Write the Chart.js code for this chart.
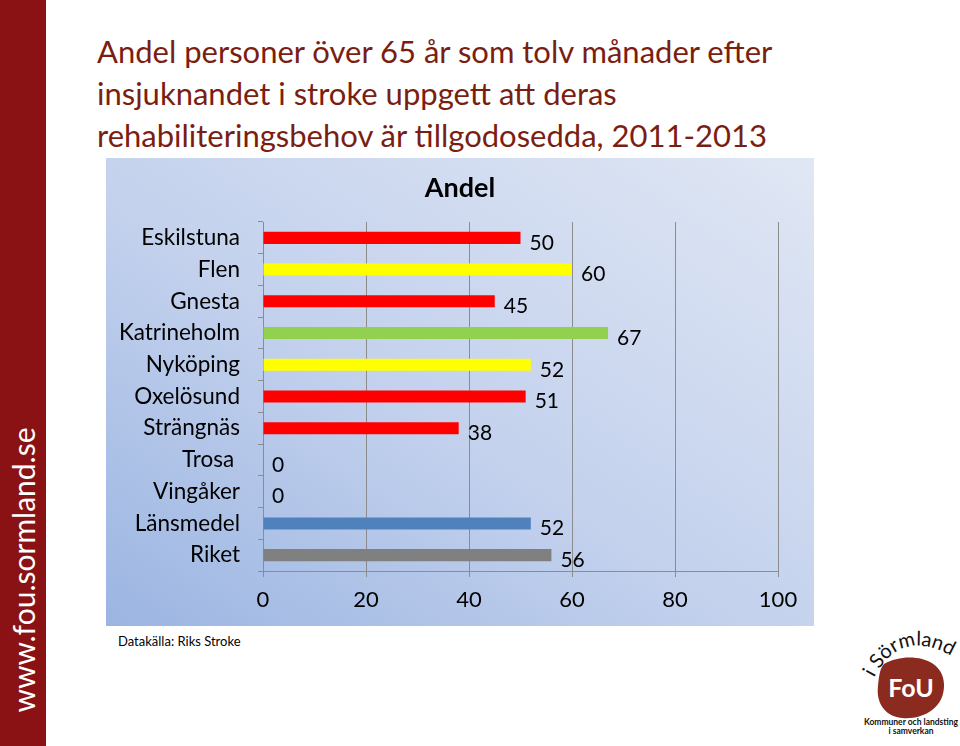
<!DOCTYPE html>
<html>
<head>
<meta charset="utf-8">
<script src="https://cdn.jsdelivr.net/npm/chart.js@4"></script>
<style>
  body { margin: 0; width: 960px; height: 746px; background: #fff; position: relative; overflow: hidden; font-family: Lato, "Open Sans", sans-serif; }
  .side { position: absolute; left: 0; top: 0; width: 46px; height: 746px; background: #8a1214; }
  .side span { position: absolute; left: 23px; top: 570px; transform: translate(-50%, -50%) rotate(-90deg); color: #fff; font-size: 30px; white-space: nowrap; }
  h1 { position: absolute; left: 97px; top: 30px; margin: 0; font-weight: normal; font-size: 31px; line-height: 42px; color: #7a1e12; }
  .box { position: absolute; left: 106px; top: 158px; width: 708px; height: 468px; background: linear-gradient(to top right, #9bb5e2 0%, #c3d1ed 45%, #e0e7f4 100%); }
  .src { position: absolute; left: 118px; top: 633px; font-size: 13px; color: #000; }
  .logo { position: absolute; left: 850px; top: 620px; }
</style>
</head>
<body>
<div class="side"><span>www.fou.sormland.se</span></div>
<h1>Andel personer över 65 år som tolv månader efter<br>insjuknandet i stroke uppgett att deras<br>rehabiliteringsbehov är tillgodosedda, 2011-2013</h1>
<div class="box"><canvas id="chart"></canvas></div>
<div class="src">Datakälla: Riks Stroke</div>
<svg class="logo" width="110" height="126" viewBox="0 0 110 126">
  <defs><path id="arc" d="M24,58 Q52,4 108,40"/></defs>
  <text font-family="Lato, sans-serif" font-size="20" fill="#111"><textPath href="#arc">i Sörmland</textPath></text>
  <path d="M34,44 C55,32 93,36 94,64 C95,90 70,100 52,98 C34,96 26,82 28,66 C29,56 30,48 34,44 Z" fill="#8b2a1e"/>
  <text x="61" y="77" text-anchor="middle" font-family="Lato, sans-serif" font-weight="bold" font-size="25" fill="#fff">FoU</text>
  <text x="61" y="105" text-anchor="middle" font-family="Lato, sans-serif" font-weight="bold" font-size="8.5" fill="#111">Kommuner och landsting</text>
  <text x="61" y="114" text-anchor="middle" font-family="Lato, sans-serif" font-weight="bold" font-size="8.5" fill="#111">i samverkan</text>
</svg>
<script>
const categories = ['Eskilstuna', 'Flen', 'Gnesta', 'Katrineholm', 'Nyköping', 'Oxelösund', 'Strängnäs', 'Trosa ', 'Vingåker', 'Länsmedel', 'Riket'];
const andel = [50, 60, 45, 67, 52, 51, 38, 0, 0, 52, 56];
const barColors = ['#ff0000', '#ffff00', '#ff0000', '#92d050', '#ffff00', '#ff0000', '#ff0000', '#ff0000', '#ff0000', '#4f81bd', '#808080'];
const xTicks = [0, 20, 40, 60, 80, 100];
const chartTitle = 'Andel';

const FONT = 'Lato, "Open Sans", sans-serif';

// value labels next to the bars, plus the chart title centred over the whole box
const extras = {
    id: 'extras',
    afterDatasetsDraw(chart) {
        const ctx = chart.ctx;
        const meta = chart.getDatasetMeta(0);
        ctx.save();
        ctx.font = '21px ' + FONT;
        ctx.fillStyle = '#000';
        ctx.textBaseline = 'middle';
        meta.data.forEach(function(bar, i) {
            ctx.fillText(String(andel[i]), bar.x + 9, bar.y + 5);
        });
        ctx.font = 'bold 27px ' + FONT;
        ctx.textAlign = 'center';
        ctx.fillText(chartTitle, chart.width / 2, 30);
        ctx.restore();
    }
};

new Chart(document.getElementById('chart'), {
    type: 'bar',
    data: {
        labels: categories,
        datasets: [{
            label: chartTitle,
            data: andel,
            backgroundColor: barColors,
            borderWidth: 0,
            categoryPercentage: 1,
            barPercentage: 0.38
        }]
    },
    options: {
        indexAxis: 'y',
        responsive: true,
        maintainAspectRatio: false,
        animation: false,
        layout: { padding: { left: 0, right: 36, top: 64, bottom: 0 } },
        plugins: {
            legend: { display: false },
            tooltip: { enabled: false },
            title: { display: false }
        },
        scales: {
            x: {
                min: 0,
                max: 100,
                afterBuildTicks: function(scale) {
                    scale.ticks = xTicks.map(function(v) { return { value: v }; });
                },
                afterFit: function(scale) { scale.height = 55; },
                grid: { color: '#8c8c8c', lineWidth: 1, tickLength: 6 },
                border: { color: '#8c8c8c' },
                ticks: { color: '#000', font: { family: FONT, size: 22 }, padding: 10 }
            },
            y: {
                afterFit: function(scale) { scale.width = 157; },
                grid: { drawOnChartArea: false, offset: true, color: '#8c8c8c', tickLength: 5 },
                border: { color: '#8c8c8c' },
                ticks: { color: '#000', font: { family: FONT, size: 22.5 }, padding: 18 }
            }
        }
    },
    plugins: [extras]
});
</script>
</body>
</html>
